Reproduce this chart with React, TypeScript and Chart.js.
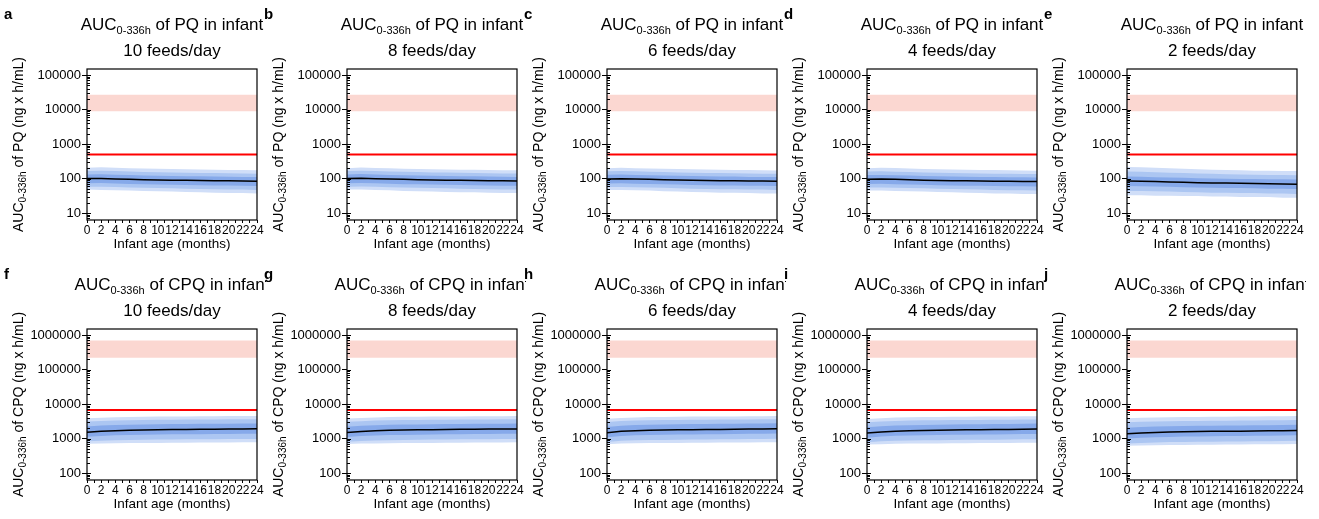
import React, { useEffect, useRef } from 'react';
import { Chart, registerables } from 'chart.js';

Chart.register(...registerables);

const FONT = '"Liberation Sans", Arial, Helvetica, sans-serif';

// ---------- data ----------
const months = [0, 2, 4, 6, 8, 10, 12, 14, 16, 18, 20, 22, 24];
const xTickValues = [0, 1, 2, 3, 4, 5, 6, 7, 8, 9, 10, 11, 12, 13, 14, 15, 16, 17, 18, 19, 20, 21, 22, 23, 24];
const xLabelValues = [0, 2, 4, 6, 8, 10, 12, 14, 16, 18, 20, 22, 24];
const feedsPerDay = [10, 8, 6, 4, 2];
const pqLetters = ['a', 'b', 'c', 'd', 'e'];
const cpqLetters = ['f', 'g', 'h', 'i', 'j'];

const pqYTicks = [10, 100, 1000, 10000, 100000];
const cpqYTicks = [100, 1000, 10000, 100000, 1000000];
const pqYRange = [6.3, 150000];
const cpqYRange = [63, 1500000];

const pqThreshold = 500;
const pqBand = [9000, 27000];
const cpqThreshold = 6700;
const cpqBand = [220000, 700000];

// PQ percentiles, one row per feeding frequency (10, 8, 6, 4, 2 feeds/day)
const pqMedian = [
  [100, 101, 98, 95, 93, 91, 90, 89, 88, 87, 86, 85, 84],
  [100, 102, 99, 97, 95, 93, 91, 90, 89, 88, 87, 86, 85],
  [98, 99, 97, 95, 93, 91, 89, 88, 87, 86, 85, 85, 84],
  [96, 97, 95, 92, 90, 88, 87, 86, 85, 84, 83, 82, 82],
  [85, 84, 82, 80, 78, 76, 75, 74, 73, 72, 71, 70, 69],
];
const pqP975 = [
  [205, 212, 206, 200, 196, 192, 188, 185, 182, 180, 178, 176, 174],
  [200, 208, 203, 198, 194, 190, 187, 184, 181, 179, 177, 175, 173],
  [198, 205, 200, 196, 192, 188, 185, 182, 180, 178, 176, 174, 172],
  [200, 206, 201, 196, 191, 187, 184, 181, 178, 176, 174, 172, 170],
  [215, 212, 205, 198, 192, 186, 181, 177, 173, 170, 168, 166, 165],
];
const pqP025 = [
  [48, 47, 46, 45, 44, 43, 42, 41, 40, 39, 38, 38, 37],
  [48, 48, 47, 46, 44, 43, 42, 41, 40, 40, 39, 38, 38],
  [47, 47, 46, 45, 43, 42, 41, 40, 39, 39, 38, 37, 37],
  [45, 45, 44, 43, 42, 41, 40, 39, 38, 37, 37, 36, 36],
  [33, 33, 32, 32, 31, 31, 30, 30, 29, 29, 29, 28, 28],
];
const pqP90 = [
  [166, 170, 165, 160, 156, 153, 150, 148, 146, 144, 142, 140, 139],
  [165, 170, 165, 161, 157, 154, 151, 149, 147, 145, 143, 141, 140],
  [162, 166, 162, 158, 154, 151, 148, 146, 144, 142, 140, 139, 138],
  [160, 163, 159, 155, 151, 148, 145, 143, 141, 139, 137, 136, 135],
  [160, 158, 153, 148, 144, 140, 137, 134, 132, 130, 128, 126, 125],
];
const pqP10 = [
  [58, 58, 57, 55, 54, 53, 52, 51, 50, 49, 48, 48, 47],
  [58, 59, 58, 56, 55, 54, 53, 52, 51, 50, 49, 48, 48],
  [57, 57, 56, 55, 54, 52, 51, 50, 49, 49, 48, 48, 47],
  [55, 55, 54, 53, 52, 51, 50, 49, 48, 47, 46, 46, 45],
  [44, 44, 43, 42, 41, 40, 39, 39, 38, 38, 37, 37, 36],
];
const pqP75 = [
  [132, 134, 130, 126, 123, 121, 119, 117, 116, 115, 113, 112, 111],
  [132, 135, 131, 128, 125, 122, 120, 118, 117, 116, 114, 113, 112],
  [129, 131, 128, 125, 122, 120, 118, 116, 115, 114, 112, 112, 111],
  [127, 128, 125, 122, 119, 117, 115, 113, 112, 111, 110, 109, 108],
  [115, 113, 110, 107, 105, 102, 100, 99, 98, 97, 96, 95, 94],
];
const pqP25 = [
  [73, 74, 72, 70, 68, 67, 66, 65, 64, 63, 63, 62, 61],
  [73, 75, 73, 71, 69, 68, 67, 66, 65, 64, 63, 62, 62],
  [72, 73, 71, 70, 68, 67, 65, 64, 63, 63, 62, 62, 61],
  [70, 71, 69, 67, 66, 64, 63, 62, 62, 61, 60, 60, 59],
  [61, 60, 59, 58, 56, 55, 54, 53, 53, 52, 51, 51, 50],
];

// CPQ percentiles
const cpqMedian = [
  [1530, 1620, 1690, 1740, 1770, 1800, 1820, 1840, 1850, 1870, 1890, 1900, 1915],
  [1500, 1600, 1680, 1730, 1760, 1790, 1810, 1830, 1850, 1860, 1880, 1890, 1900],
  [1480, 1620, 1700, 1740, 1770, 1790, 1810, 1830, 1840, 1860, 1880, 1900, 1920],
  [1450, 1560, 1640, 1690, 1720, 1750, 1770, 1790, 1800, 1820, 1840, 1860, 1880],
  [1370, 1450, 1510, 1550, 1580, 1600, 1620, 1630, 1640, 1660, 1680, 1700, 1720],
];
const cpqP975 = [
  [3870, 4000, 4150, 4250, 4300, 4350, 4400, 4400, 4450, 4450, 4480, 4500, 4500],
  [3800, 3950, 4100, 4200, 4260, 4300, 4350, 4380, 4400, 4420, 4450, 4470, 4480],
  [3750, 3950, 4100, 4200, 4250, 4300, 4330, 4360, 4380, 4400, 4430, 4460, 4490],
  [3700, 3900, 4050, 4150, 4200, 4250, 4280, 4310, 4330, 4350, 4380, 4410, 4440],
  [3900, 4000, 4100, 4150, 4200, 4250, 4280, 4320, 4350, 4380, 4420, 4460, 4500],
];
const cpqP025 = [
  [710, 720, 730, 740, 745, 750, 755, 760, 765, 770, 775, 780, 780],
  [700, 715, 725, 735, 740, 745, 750, 755, 760, 765, 770, 775, 780],
  [690, 715, 730, 740, 745, 750, 755, 760, 765, 770, 775, 780, 785],
  [670, 690, 705, 715, 720, 725, 730, 735, 740, 745, 750, 755, 760],
  [620, 630, 640, 650, 655, 660, 665, 670, 675, 680, 685, 690, 700],
];
const cpqP90 = [
  [3100, 3250, 3350, 3420, 3470, 3500, 3530, 3550, 3570, 3590, 3610, 3630, 3650],
  [3050, 3200, 3320, 3400, 3450, 3480, 3510, 3540, 3560, 3580, 3600, 3620, 3640],
  [3000, 3220, 3340, 3410, 3450, 3480, 3510, 3540, 3560, 3580, 3600, 3630, 3660],
  [2950, 3130, 3250, 3320, 3370, 3400, 3430, 3460, 3480, 3500, 3520, 3550, 3580],
  [2950, 3050, 3130, 3180, 3220, 3250, 3280, 3300, 3320, 3340, 3370, 3400, 3430],
];
const cpqP10 = [
  [830, 860, 890, 910, 925, 935, 945, 950, 955, 960, 965, 970, 975],
  [815, 850, 880, 900, 915, 925, 935, 945, 950, 955, 960, 965, 970],
  [800, 860, 890, 905, 915, 925, 935, 945, 950, 955, 965, 975, 985],
  [780, 830, 860, 880, 890, 900, 910, 920, 925, 930, 940, 950, 960],
  [720, 750, 775, 790, 800, 810, 815, 820, 825, 830, 840, 850, 860],
];
const cpqP75 = [
  [2250, 2380, 2470, 2530, 2570, 2600, 2630, 2650, 2670, 2690, 2710, 2720, 2740],
  [2200, 2350, 2450, 2510, 2550, 2580, 2610, 2640, 2660, 2680, 2700, 2710, 2730],
  [2170, 2370, 2480, 2530, 2570, 2600, 2630, 2650, 2670, 2690, 2720, 2740, 2770],
  [2120, 2280, 2390, 2450, 2490, 2530, 2560, 2590, 2610, 2630, 2660, 2690, 2720],
  [2050, 2150, 2230, 2280, 2310, 2340, 2370, 2380, 2400, 2420, 2450, 2480, 2510],
];
const cpqP25 = [
  [1130, 1190, 1240, 1270, 1290, 1310, 1325, 1335, 1345, 1355, 1365, 1375, 1385],
  [1110, 1180, 1230, 1260, 1280, 1300, 1315, 1330, 1340, 1350, 1360, 1370, 1380],
  [1090, 1190, 1240, 1270, 1290, 1305, 1320, 1335, 1345, 1355, 1370, 1385, 1400],
  [1060, 1140, 1200, 1230, 1250, 1270, 1285, 1300, 1310, 1320, 1335, 1350, 1365],
  [1000, 1050, 1090, 1120, 1140, 1155, 1170, 1180, 1190, 1200, 1215, 1230, 1245],
];

// ---------- styling ----------
const OUTER = 'rgb(208, 222, 248)';
const MID = 'rgb(172, 198, 242)';
const INNER = 'rgb(134, 169, 234)';
const PINK = 'rgb(251, 215, 209)';
const RED = '#ff0000';

const CANVAS_W = 266;
const CANVAS_H = 259;
const COL_STEP = 260;
const ROW_STEP = 260;

type Seg = [string, number, number];

function drawSegments(ctx: CanvasRenderingContext2D, segs: Seg[], cx: number, y: number) {
  let total = 0;
  const widths: number[] = [];
  for (const [t, size] of segs) {
    ctx.font = `${size}px ${FONT}`;
    const w = ctx.measureText(t).width;
    widths.push(w);
    total += w;
  }
  let x = cx - total / 2;
  ctx.textAlign = 'left';
  ctx.textBaseline = 'alphabetic';
  segs.forEach(([t, size, dy], i) => {
    ctx.font = `${size}px ${FONT}`;
    ctx.fillText(t, x, y + dy);
    x += widths[i];
  });
}

function makeDecor(letter: string, drug: string, feeds: number) {
  return {
    id: 'decor',
    afterDraw(chart: any) {
      const { ctx, chartArea: ca, scales } = chart;
      const y = scales.y;
      ctx.save();
      ctx.strokeStyle = '#000';
      ctx.lineWidth = 1.2;
      ctx.strokeRect(ca.left, ca.top, ca.right - ca.left, ca.bottom - ca.top);
      ctx.lineWidth = 1;
      const e0 = Math.floor(Math.log10(y.min));
      const e1 = Math.ceil(Math.log10(y.max));
      for (let e = e0; e <= e1; e++) {
        for (let k = 1; k <= 9; k++) {
          const v = k * Math.pow(10, e);
          if (v < y.min || v > y.max) continue;
          const py = Math.round(y.getPixelForValue(v)) + 0.5;
          ctx.beginPath();
          ctx.moveTo(ca.left, py);
          ctx.lineTo(ca.left + (k === 1 ? 4 : 3), py);
          ctx.stroke();
        }
      }
      ctx.fillStyle = '#000';
      ctx.font = `bold 15px ${FONT}`;
      ctx.textAlign = 'left';
      ctx.textBaseline = 'alphabetic';
      ctx.fillText(letter, 4, 19);
      const cx = (ca.left + ca.right) / 2;
      drawSegments(ctx, [['AUC', 17, 0], ['0-336h', 11, 4], [` of ${drug} in infant`, 17, 0]], cx, 30);
      ctx.font = `17px ${FONT}`;
      ctx.textAlign = 'center';
      ctx.fillText(`${feeds} feeds/day`, cx, 56);
      ctx.translate(23, (ca.top + ca.bottom) / 2);
      ctx.rotate(-Math.PI / 2);
      drawSegments(ctx, [['AUC', 14, 0], ['0-336h', 10, 3], [` of ${drug} (ng x h/mL)`, 14, 0]], 0, 0);
      ctx.restore();
    },
  };
}

const pts = (vals: number[]) => vals.map((v, i) => ({ x: months[i], y: v }));
const flat = (v: number) => [{ x: 0, y: v }, { x: 24, y: v }];

const bandBase = {
  borderColor: 'rgba(0,0,0,0)',
  borderWidth: 0,
  pointRadius: 0,
  pointHoverRadius: 0,
};

interface PanelProps {
  row: number;
  col: number;
}

function Panel({ row, col }: PanelProps) {
  const ref = useRef<HTMLCanvasElement | null>(null);
  useEffect(() => {
    if (!ref.current) return;
    const isPQ = row === 0;
    const drug = isPQ ? 'PQ' : 'CPQ';
    const letter = isPQ ? pqLetters[col] : cpqLetters[col];
    const med = isPQ ? pqMedian[col] : cpqMedian[col];
    const p975 = isPQ ? pqP975[col] : cpqP975[col];
    const p025 = isPQ ? pqP025[col] : cpqP025[col];
    const p90 = isPQ ? pqP90[col] : cpqP90[col];
    const p10 = isPQ ? pqP10[col] : cpqP10[col];
    const p75 = isPQ ? pqP75[col] : cpqP75[col];
    const p25 = isPQ ? pqP25[col] : cpqP25[col];
    const thr = isPQ ? pqThreshold : cpqThreshold;
    const band = isPQ ? pqBand : cpqBand;
    const yRange = isPQ ? pqYRange : cpqYRange;
    const yTicks = isPQ ? pqYTicks : cpqYTicks;

    const chart = new Chart(ref.current, {
      type: 'line',
      data: {
        datasets: [
          { ...bandBase, data: pts(p975), backgroundColor: OUTER, fill: 1, order: 5 },
          { ...bandBase, data: pts(p025), fill: false, order: 5 },
          { ...bandBase, data: pts(p90), backgroundColor: MID, fill: 3, order: 4 },
          { ...bandBase, data: pts(p10), fill: false, order: 4 },
          { ...bandBase, data: pts(p75), backgroundColor: INNER, fill: 5, order: 3 },
          { ...bandBase, data: pts(p25), fill: false, order: 3 },
          { data: pts(med), borderColor: '#000', borderWidth: 1.5, pointRadius: 0, fill: false, order: 0 },
          { ...bandBase, data: flat(band[1]), backgroundColor: PINK, fill: 8, order: 6 },
          { ...bandBase, data: flat(band[0]), fill: false, order: 6 },
          { data: flat(thr), borderColor: RED, borderWidth: 2, pointRadius: 0, fill: false, order: 1 },
        ] as any,
      },
      options: {
        responsive: false,
        animation: false,
        devicePixelRatio: 1,
        events: [],
        layout: { padding: { top: 69, right: CANVAS_W - 257, left: 0, bottom: 0 } },
        plugins: {
          legend: { display: false },
          tooltip: { enabled: false },
          title: { display: false },
        },
        scales: {
          x: {
            type: 'linear',
            min: 0,
            max: 24,
            afterBuildTicks: (s: any) => {
              s.ticks = xTickValues.map((v) => ({ value: v }));
            },
            afterFit: (s: any) => {
              s.height = CANVAS_H - 220;
            },
            ticks: {
              autoSkip: false,
              maxRotation: 0,
              minRotation: 0,
              padding: 0,
              color: '#000',
              font: { family: FONT, size: 12 },
              callback: (v: any) => (xLabelValues.includes(Number(v)) ? String(v) : ''),
            },
            grid: { drawOnChartArea: false, drawTicks: true, tickLength: 3, color: '#000', lineWidth: 1 },
            border: { display: false },
            title: {
              display: true,
              text: 'Infant age (months)',
              color: '#000',
              font: { family: FONT, size: 13.5 },
              padding: { top: 0, bottom: 7 },
            },
          },
          y: {
            type: 'logarithmic',
            min: yRange[0],
            max: yRange[1],
            afterBuildTicks: (s: any) => {
              s.ticks = yTicks.map((v) => ({ value: v, major: true }));
            },
            afterFit: (s: any) => {
              s.width = 87;
            },
            ticks: {
              autoSkip: false,
              padding: 1,
              color: '#000',
              font: { family: FONT, size: 13 },
              callback: (v: any) => String(v),
            },
            grid: { drawOnChartArea: false, drawTicks: true, tickLength: 5, color: '#000', lineWidth: 1 },
            border: { display: false },
          },
        },
      } as any,
      plugins: [makeDecor(letter, drug, feedsPerDay[col])],
    });
    return () => chart.destroy();
  }, [row, col]);

  return (
    <canvas
      ref={ref}
      width={CANVAS_W}
      height={CANVAS_H}
      style={{ position: 'absolute', left: col * COL_STEP, top: row * ROW_STEP, width: CANVAS_W, height: CANVAS_H }}
    />
  );
}

export default function App() {
  const panels: { row: number; col: number }[] = [];
  for (let r = 0; r < 2; r++) for (let c = 0; c < 5; c++) panels.push({ row: r, col: c });
  return (
    <div
      style={{
        position: 'absolute',
        left: 0,
        top: 0,
        width: 1319,
        height: 519,
        background: '#fff',
        overflow: 'hidden',
      }}
    >
      {panels.map((p) => (
        <Panel key={`${p.row}-${p.col}`} row={p.row} col={p.col} />
      ))}
    </div>
  );
}
